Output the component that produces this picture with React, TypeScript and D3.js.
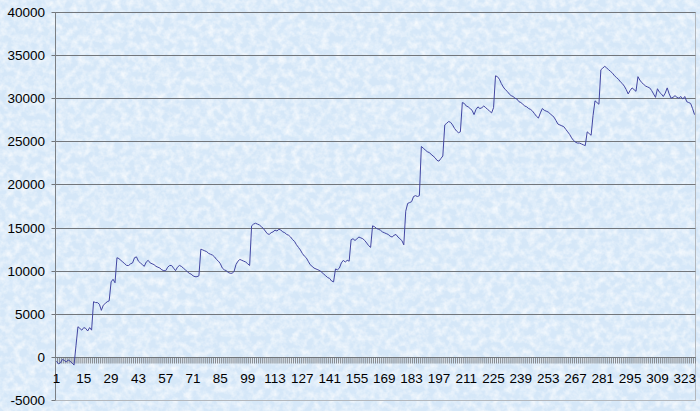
import React from "react";
import * as d3 from "d3";

const yTicks: number[] = [-5000, 0, 5000, 10000, 15000, 20000, 25000, 30000, 35000, 40000];
const labelStep = 14;

const values: number[] = [
  -500, -800, -700, -300, -400, -600, -350, -500, -700, -950,
  1300, 3500, 3300, 3100, 3400, 3300, 3000, 3400, 3100, 6400,
  6300, 6300, 6100, 5400, 6000, 6200, 6400, 6500, 8700, 9000,
  8600, 11500, 11400, 11200, 11000, 10800, 10600, 10600, 10800, 10900,
  11500, 11600, 11100, 10900, 10700, 10500, 11000, 11200, 10900, 10800,
  10700, 10500, 10400, 10300, 10100, 10000, 10000, 10400, 10600, 10600,
  10300, 10000, 10400, 10600, 10500, 10300, 10100, 9900, 9700, 9600,
  9400, 9300, 9300, 9400, 12500, 12400, 12300, 12200, 12000, 11900,
  11800, 11600, 11300, 11100, 10800, 10300, 10100, 10000, 9800, 9700,
  9700, 9900, 10700, 11100, 11300, 11200, 11100, 11000, 10800, 10600,
  15200, 15400, 15500, 15400, 15300, 15100, 14900, 14600, 14300, 14200,
  14400, 14500, 14700, 14600, 14800, 14700, 14500, 14400, 14200, 14100,
  13900, 13600, 13400, 13000, 12700, 12400, 12000, 11700, 11500, 11100,
  10700, 10500, 10300, 10200, 10100, 10000, 9800, 9600, 9400, 9200,
  9100, 8800, 8700, 10200, 10100, 10300, 10900, 11200, 11000, 11200,
  11100, 13600, 13700, 13500, 13700, 13900, 13800, 13700, 13500, 13200,
  12900, 12700, 15200, 15100, 14900, 14800, 14700, 14500, 14400, 14300,
  14200, 14000, 13900, 14100, 14200, 13900, 13700, 13500, 13000, 16900,
  17800, 17900, 18000, 18600, 18700, 18600, 18700, 24400, 24200, 24000,
  23800, 23700, 23500, 23300, 23100, 22800, 22700, 23000, 23300, 26900,
  27100, 27300, 27200, 26900, 26500, 26200, 26000, 26100, 29500, 29400,
  29100, 29000, 28800, 28600, 28100, 28700, 29000, 28800, 28900, 29100,
  28900, 28700, 28500, 28300, 28900, 32600, 32500, 32200, 31700, 31300,
  31000, 30800, 30500, 30300, 30200, 30000, 29900, 29600, 29500, 29300,
  29100, 29000, 28800, 28700, 28500, 28200, 27900, 27700, 28300, 28800,
  28600, 28500, 28400, 28200, 28000, 27800, 27400, 27000, 26900, 26800,
  26700, 26400, 26100, 25800, 25400, 25100, 24900, 24800, 24800, 24700,
  24600, 24500, 26100, 25900, 25700, 28000, 29700, 29500, 29300, 33300,
  33500, 33700, 33500, 33300, 33100, 32900, 32600, 32400, 32200, 31900,
  31700, 31400, 31000, 30500, 30900, 31200, 31000, 30800, 32500, 32100,
  31800, 31600, 31400, 31300, 31200, 30900, 30500, 30100, 31100, 30700,
  30500, 30200, 30600, 31200, 30500, 30000, 30100, 30300, 30100, 30000,
  30200, 29900, 30200, 29600, 29500, 29400, 28800, 28100,
];

const categories: string[] = values.map((_, i) => String(i + 1));

const W = 700;
const H = 411;
const left = 55.5;
const right = 695.5;
const top = 12;
const bottom = 400;

export default function App() {
  const x = d3.scaleBand<string>().domain(categories).range([left, right]).padding(0);
  const y = d3.scaleLinear().domain([-5000, 40000]).range([bottom, top]);
  const line = d3
    .line<number>()
    .x((_, i) => (x(categories[i]) as number) + x.bandwidth() / 2)
    .y((d) => y(d));
  const y0 = Math.round(y(0)) + 0.5;
  const boundaries = d3.range(categories.length + 1).map((i) => left + i * x.step());
  const labelCats = categories.filter((_, i) => i % labelStep === 0);
  const font = "'Liberation Sans', Arial, sans-serif";

  return (
    <svg
      width={W}
      height={H}
      style={{ position: "absolute", left: 0, top: 0, display: "block" }}
    >
      <defs>
        <filter id="tex" x="0" y="0" width="100%" height="100%">
          <feTurbulence type="fractalNoise" baseFrequency="0.14" numOctaves={3} seed={7} result="n" />
          <feColorMatrix
            in="n"
            type="matrix"
            values="0 0 0 0 1  0 0 0 0 1  0 0 0 0 1  1.4 0 0 0 -0.5"
          />
        </filter>
        <filter id="tex2" x="0" y="0" width="100%" height="100%">
          <feTurbulence type="fractalNoise" baseFrequency="0.05" numOctaves={2} seed={19} result="n" />
          <feColorMatrix
            in="n"
            type="matrix"
            values="0 0 0 0 0.70  0 0 0 0 0.83  0 0 0 0 0.96  1.0 0 0 0 -0.45"
          />
        </filter>
      </defs>
      <rect x={0} y={0} width={W} height={H} fill="#d5e7f8" />
      <rect x={0} y={0} width={W} height={H} filter="url(#tex2)" />
      <rect x={0} y={0} width={W} height={H} filter="url(#tex)" />

      {/* plot border */}
      <rect
        x={left}
        y={top + 0.5}
        width={right - left}
        height={bottom - top}
        fill="none"
        stroke="#b4b8bd"
        strokeWidth={1}
      />

      {/* gridlines */}
      {yTicks.map((t) => {
        const yy = Math.round(y(t)) + 0.5;
        return (
          <g key={t}>
            {t !== -5000 && (
              <line x1={left} x2={right} y1={yy} y2={yy} stroke="#72767b" strokeWidth={1} />
            )}
            <line x1={left - 4} x2={left} y1={yy} y2={yy} stroke="#72767b" strokeWidth={1} />
            <text
              x={45}
              y={yy}
              dy="0.35em"
              textAnchor="end"
              fontFamily={font}
              fontSize={13.5}
              fill="#000"
            >
              {t}
            </text>
          </g>
        );
      })}

      {/* y axis line */}
      <line x1={left} x2={left} y1={top} y2={bottom} stroke="#7a7e83" strokeWidth={1} />

      {/* category tick marks */}
      {boundaries.map((bx, i) => (
        <line key={i} x1={bx} x2={bx} y1={y0} y2={y0 + 6} stroke="#85898e" strokeWidth={1} />
      ))}
      <line x1={left} x2={right} y1={y0} y2={y0} stroke="#72767b" strokeWidth={1} />

      {/* x labels */}
      {labelCats.map((c) => (
        <text
          key={c}
          x={(x(c) as number) + x.bandwidth() / 2}
          y={383}
          textAnchor="middle"
          fontFamily={font}
          fontSize={13.5}
          fill="#000"
        >
          {c}
        </text>
      ))}

      {/* series */}
      <path d={line(values) || ""} fill="none" stroke="#4246a2" strokeWidth={1} strokeLinejoin="round" />
    </svg>
  );
}
